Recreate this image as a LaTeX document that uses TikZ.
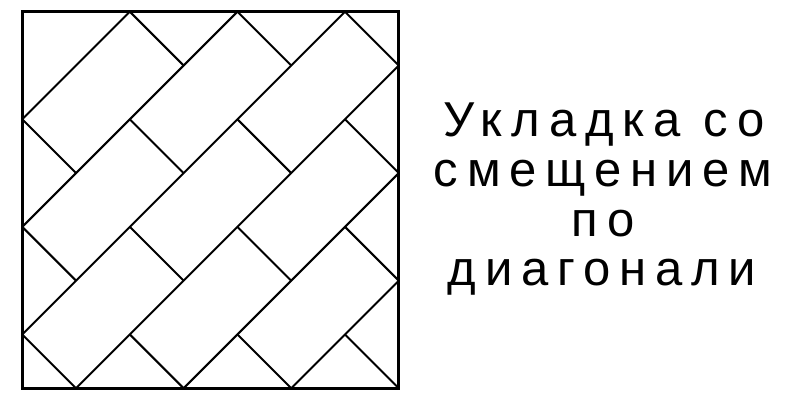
\documentclass[tikz,border=0pt]{standalone}
\usepackage{fontspec}
\newfontfamily\labfont[LetterSpace=18]{Liberation Sans}
\begin{document}
\begin{tikzpicture}[x=0.5pt,y=-0.5pt,
  tile/.style={line width=1pt,black},
  frame/.style={line width=1.5pt,black},
  lab/.style={anchor=base,inner sep=0pt,font=\labfont\fontsize{24.5pt}{24.5pt}\selectfont}]
\useasboundingbox[fill=white] (0,0) rectangle (800,400);
% tiles in rotated frame (s along x+y, t along x-y)
\begin{scope}[shift={(105.25pt,-100pt)}, x={(26.895pt,-26.895pt)}, y={(26.895pt,26.895pt)}]
  \foreach \s in {-2.5,-1.5,-0.5,0.5,1.5,2.5} {
    \pgfmathsetmacro\e{3.5-abs(\s)}
    \draw[tile] (\s,-\e) -- (\s,\e);
  }
  \foreach \t in {-1,1} {\draw[tile] (-2.5,\t) -- (-1.5,\t);}
  \foreach \t in {-2,0,2} {\draw[tile] (-1.5,\t) -- (-0.5,\t);}
  \foreach \t in {-3,-1,1,3} {\draw[tile] (-0.5,\t) -- (0.5,\t);}
  \foreach \t in {-2,0,2} {\draw[tile] (0.5,\t) -- (1.5,\t);}
  \foreach \t in {-1,1} {\draw[tile] (1.5,\t) -- (2.5,\t);}
  \draw[tile] (2.5,0) -- (3.5,0);
\end{scope}
\draw[frame] (22.25,11.75) rectangle (398.75,388.25);
\node[lab] (l1) at (604,137) {Укладка со};
\node[lab] (l2) at (603,187) {смещением};
\node[lab] (l3) at (603,237) {по};
\node[lab] (l4) at (602,286) {диагонали};
\end{tikzpicture}
\end{document}
